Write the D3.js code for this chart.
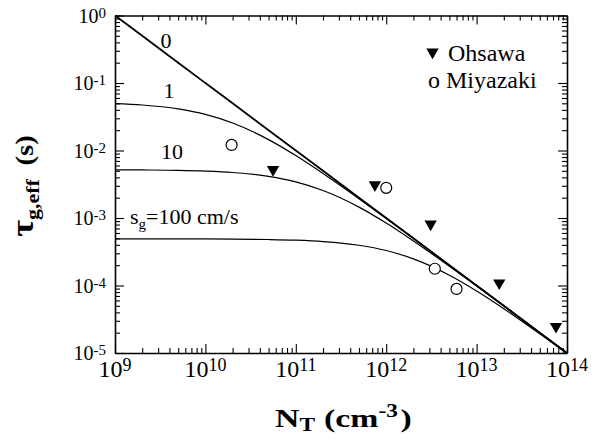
<!DOCTYPE html>
<html>
<head>
<meta charset="utf-8">
<script src="https://cdn.jsdelivr.net/npm/d3@7"></script>
<style>
  body { margin: 0; background: #fff; }
  svg { display: block; font-family: "Liberation Serif", "Times New Roman", serif; }
</style>
</head>
<body>
<svg id="chart" width="601" height="441"></svg>
<script>
// trap density grid (cm^-3) for the model curves
const nT = [1e9, 2e9, 5e9, 1e10, 2e10, 5e10, 1e11, 2e11, 5e11, 1e12, 2e12, 5e12, 1e13, 2e13, 5e13, 1e14];

// tau_g,eff (s), one array per surface velocity s_g
const tauSg0   = [1, 0.5, 0.2, 0.1, 0.05, 0.02, 0.01, 5e-3, 2e-3, 1e-3, 5e-4, 2e-4, 1e-4, 5e-5, 2e-5, 1e-5];
const tauSg1   = [0.0495, 0.0472, 0.0413, 0.0342, 0.0255, 0.0145, 8.4e-3, 4.56e-3, 1.93e-3, 9.8e-4, 4.95e-4, 1.99e-4, 9.98e-5, 5.0e-5, 2.0e-5, 1.0e-5];
const tauSg10  = [5.18e-3, 5.15e-3, 5.08e-3, 4.95e-3, 4.72e-3, 4.13e-3, 3.42e-3, 2.55e-3, 1.45e-3, 8.4e-4, 4.56e-4, 1.93e-4, 9.8e-5, 4.95e-5, 2.0e-5, 1.0e-5];
const tauSg100 = [4.92e-4, 4.92e-4, 4.91e-4, 4.9e-4, 4.87e-4, 4.8e-4, 4.69e-4, 4.48e-4, 3.95e-4, 3.3e-4, 2.48e-4, 1.42e-4, 8.3e-5, 4.54e-5, 1.92e-5, 9.8e-6];

// measured points
const ohsawaN   = [5.6e10, 7.5e11, 3.1e12, 1.78e13, 7.55e13];
const ohsawaTau = [5.2e-3, 3.1e-3, 8.1e-4, 1.09e-4, 2.47e-5];
const miyazakiN   = [1.95e10, 1.0e12, 3.45e12, 6.0e12];
const miyazakiTau = [1.21e-2, 2.8e-3, 1.77e-4, 8.9e-5];

// tick exponents
const xTickExp = [9, 10, 11, 12, 13, 14];
const yTickExp = [0, -1, -2, -3, -4, -5];

const svg = d3.select('#chart');

const xScale = d3.scaleLog().domain([1e9, 1e14]).range([115, 567]);
const yScale = d3.scaleLog().domain([1e-5, 1]).range([353, 15.5]);

const xMajor = xTickExp.map((e) => Math.pow(10, e));
const yMajor = yTickExp.map((e) => Math.pow(10, e));
let xMinor = [];
for (let e = 9; e < 14; e++) for (let m = 2; m <= 9; m++) xMinor.push(m * Math.pow(10, e));
let yMinor = [];
for (let e = -5; e < 0; e++) for (let m = 2; m <= 9; m++) yMinor.push(m * Math.pow(10, e));

// frame: four axes with ticks pointing inwards
function drawAxis(axisFn, scale, transform, major, minor) {
  let g = svg.append('g').attr('transform', transform);
  g.call(axisFn(scale).tickValues(major).tickSize(-9).tickSizeOuter(0).tickFormat(''));
  g.append('g').call(axisFn(scale).tickValues(minor).tickSize(-5).tickSizeOuter(0).tickFormat(''))
    .select('.domain').remove();
  g.selectAll('.domain').attr('stroke', '#000').attr('stroke-width', 1.6);
  g.selectAll('.tick line').attr('stroke', '#000').attr('stroke-width', 1.1);
}
drawAxis(d3.axisBottom, xScale, 'translate(0,353)', xMajor, xMinor);
drawAxis(d3.axisTop, xScale, 'translate(0,15.5)', xMajor, xMinor);
drawAxis(d3.axisLeft, yScale, 'translate(115,0)', yMajor, yMinor);
drawAxis(d3.axisRight, yScale, 'translate(567,0)', yMajor, yMinor);

// tick labels with superscripts
xTickExp.forEach((e) => {
  let t = svg.append('text')
    .attr('x', xScale(Math.pow(10, e)))
    .attr('y', 377)
    .attr('text-anchor', 'middle')
    .attr('font-size', 24);
  t.append('tspan').text('10');
  t.append('tspan').attr('font-size', 18).attr('dy', -6).text(e);
});
yTickExp.forEach((e) => {
  let t = svg.append('text')
    .attr('x', 106)
    .attr('y', yScale(Math.pow(10, e)) + 7)
    .attr('text-anchor', 'end')
    .attr('font-size', 20);
  t.append('tspan').text('10');
  t.append('tspan').attr('font-size', 15).attr('dy', -5).text(e);
});

// model curves
let line = d3.line()
  .x((d) => xScale(d[0]))
  .y((d) => yScale(d[1]))
  .curve(d3.curveMonotoneX);

[[tauSg0, 1.8], [tauSg1, 1.2], [tauSg10, 1.2], [tauSg100, 1.2]].forEach(([vals, sw]) => {
  svg.append('path')
    .datum(nT.map((n, i) => [n, vals[i]]))
    .attr('d', line)
    .attr('fill', 'none')
    .attr('stroke', '#000')
    .attr('stroke-width', sw);
});

// curve labels
svg.append('text').attr('x', 166).attr('y', 48).attr('text-anchor', 'middle').attr('font-size', 22).text('0');
svg.append('text').attr('x', 169).attr('y', 98).attr('text-anchor', 'middle').attr('font-size', 22).text('1');
svg.append('text').attr('x', 172).attr('y', 159).attr('text-anchor', 'middle').attr('font-size', 22).text('10');
let sgLabel = svg.append('text').attr('x', 130).attr('y', 224).attr('font-size', 22);
sgLabel.append('tspan').text('s');
sgLabel.append('tspan').attr('font-size', 15).attr('dy', 5).text('g');
sgLabel.append('tspan').attr('dy', -5).text('=100 cm/s');

// data markers
let tri = d3.symbol().type(d3.symbolTriangle).size(66);
svg.selectAll('.ohsawa')
  .data(ohsawaN.map((n, i) => [n, ohsawaTau[i]]))
  .enter()
  .append('path')
  .attr('class', 'ohsawa')
  .attr('d', tri)
  .attr('transform', (d) => `translate(${xScale(d[0])},${yScale(d[1])}) rotate(180)`)
  .attr('fill', '#000');

svg.selectAll('.miyazaki')
  .data(miyazakiN.map((n, i) => [n, miyazakiTau[i]]))
  .enter()
  .append('circle')
  .attr('class', 'miyazaki')
  .attr('cx', (d) => xScale(d[0]))
  .attr('cy', (d) => yScale(d[1]))
  .attr('r', 5.5)
  .attr('fill', '#fff')
  .attr('stroke', '#000')
  .attr('stroke-width', 1.2);

// legend
svg.append('path').attr('d', tri).attr('transform', 'translate(432.5,52) rotate(180)').attr('fill', '#000');
svg.append('text').attr('x', 448).attr('y', 61).attr('font-size', 24).text('Ohsawa');
svg.append('text').attr('x', 428).attr('y', 88).attr('font-size', 24).text('o Miyazaki');

// axis titles (the printed titles are set wide, hence the x stretch)
let xTitle = svg.append('text')
  .attr('transform', 'translate(275,427) scale(1.3,1)')
  .attr('font-size', 26)
  .attr('font-weight', 'bold');
xTitle.append('tspan').text('N');
xTitle.append('tspan').attr('font-size', 18).attr('dy', 4).text('T');
xTitle.append('tspan').attr('dx', 7).attr('dy', -4).text('(cm');
xTitle.append('tspan').attr('font-size', 18).attr('dy', -10).text('-3');
xTitle.append('tspan').attr('dx', 2).attr('dy', 10).text(')');

let yTitle = svg.append('text')
  .attr('transform', 'translate(33,186) rotate(-90) scale(1.15,1)')
  .attr('text-anchor', 'middle')
  .attr('font-size', 25)
  .attr('font-weight', 'bold');
yTitle.append('tspan').attr('font-size', 32).text('τ');
yTitle.append('tspan').attr('font-size', 19).attr('dy', 6).text('g,eff');
yTitle.append('tspan').attr('dx', 12).attr('dy', -6).text('(s)');
</script>
</body>
</html>
